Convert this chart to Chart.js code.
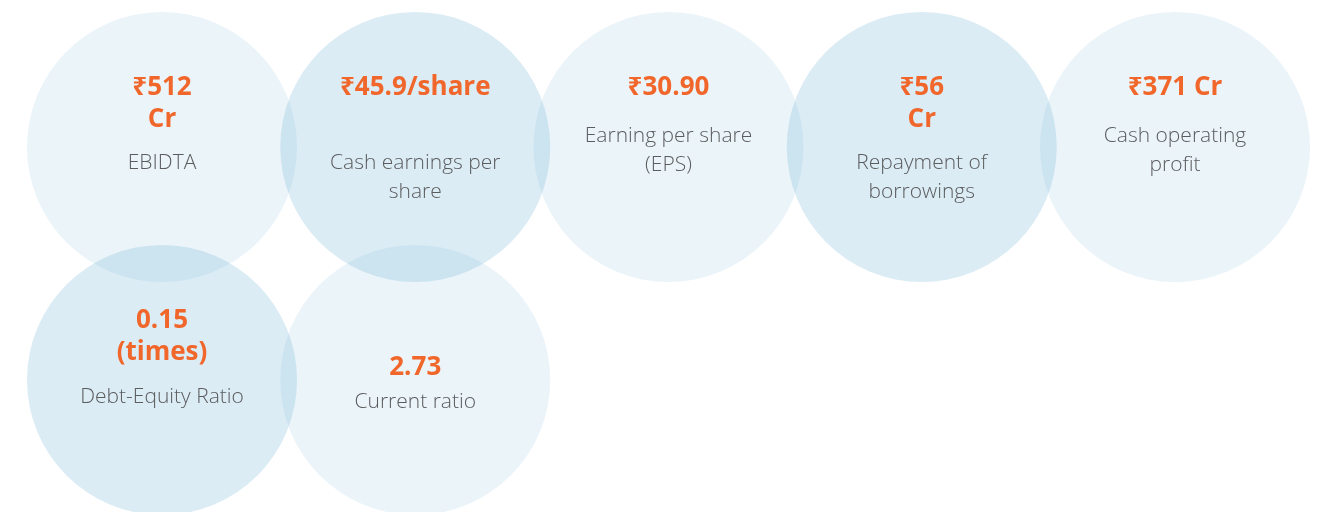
<!DOCTYPE html>
<html>
<head>
<meta charset="utf-8">
<script src="https://cdn.jsdelivr.net/npm/chart.js@4"></script>
<style>
  html, body { margin: 0; padding: 0; background: #ffffff; }
  #wrap { width: 1326px; height: 512px; position: relative; }
</style>
</head>
<body>
<div id="wrap"><canvas id="c" width="1326" height="512"></canvas></div>
<script>
// key figures, one per circle, read left to right then next row
const valueLines = [
  ["₹512", "Cr"],
  ["₹45.9/share"],
  ["₹30.90"],
  ["₹56", "Cr"],
  ["₹371 Cr"],
  ["0.15", "(times)"],
  ["2.73"]
];
const labelLines = [
  ["EBIDTA"],
  ["Cash earnings per", "share"],
  ["Earning per share", "(EPS)"],
  ["Repayment of", "borrowings"],
  ["Cash operating", "profit"],
  ["Debt-Equity Ratio"],
  ["Current ratio"]
];

// layout / style (kept apart from the data)
const PER_ROW = 5;
const RADIUS = 135;
const SHADE = [0, 1, 0, 1, 0, 1, 0];             // 1 = darker circle
const FILL = ["rgba(110,180,215,0.14)", "rgba(110,180,215,0.25)"];
const VALUE_TOP = [-52, -52, -52, -52, -52, -52, -5]; // baseline of first value line, from centre
const LABEL_TOP = [22, 22, -5, 22, -5, 23, 28];       // baseline of first label line
const VALUE_LH = 32, LABEL_LH = 29;
const ORANGE = "#f1662a", GREY = "#5b5c5e";

const points = valueLines.map(function (_, i) {
  return { x: i % PER_ROW, y: Math.floor(i / PER_ROW), r: RADIUS };
});

const textPlugin = {
  id: "circleText",
  afterDatasetsDraw: function (chart) {
    const ctx = chart.ctx;
    const xs = chart.scales.x, ys = chart.scales.y;
    ctx.save();
    ctx.textAlign = "center";
    ctx.textBaseline = "alphabetic";
    points.forEach(function (p, i) {
      const cx = xs.getPixelForValue(p.x);
      const cy = ys.getPixelForValue(p.y);
      ctx.fillStyle = ORANGE;
      ctx.font = "700 26px 'Open Sans', 'Noto Sans', sans-serif";
      valueLines[i].forEach(function (t, k) {
        ctx.fillText(t, cx, cy + VALUE_TOP[i] + k * VALUE_LH);
      });
      ctx.fillStyle = GREY;
      ctx.font = "300 21px 'Open Sans', 'Noto Sans', sans-serif";
      labelLines[i].forEach(function (t, k) {
        ctx.fillText(t, cx, cy + LABEL_TOP[i] + k * LABEL_LH);
      });
    });
    ctx.restore();
  }
};

// centres land at x = 162 + 253.25*col, y = 147 + 233*row
const X_UNIT = 253.25, Y_UNIT = 233;
const xMin = -162 / X_UNIT, yMin = -147 / Y_UNIT;

new Chart(document.getElementById("c").getContext("2d"), {
  type: "bubble",
  data: {
    datasets: [{
      data: points,
      backgroundColor: points.map(function (_, i) { return FILL[SHADE[i]]; }),
      borderWidth: 0,
      hoverBorderWidth: 0,
      clip: false
    }]
  },
  options: {
    responsive: false,
    animation: false,
    events: [],
    layout: { padding: 0, autoPadding: false },
    scales: {
      x: { type: "linear", display: false, min: xMin, max: xMin + 1326 / X_UNIT },
      y: { type: "linear", display: false, reverse: true, min: yMin, max: yMin + 512 / Y_UNIT }
    },
    plugins: { legend: { display: false }, tooltip: { enabled: false } }
  },
  plugins: [textPlugin]
});
</script>
</body>
</html>
